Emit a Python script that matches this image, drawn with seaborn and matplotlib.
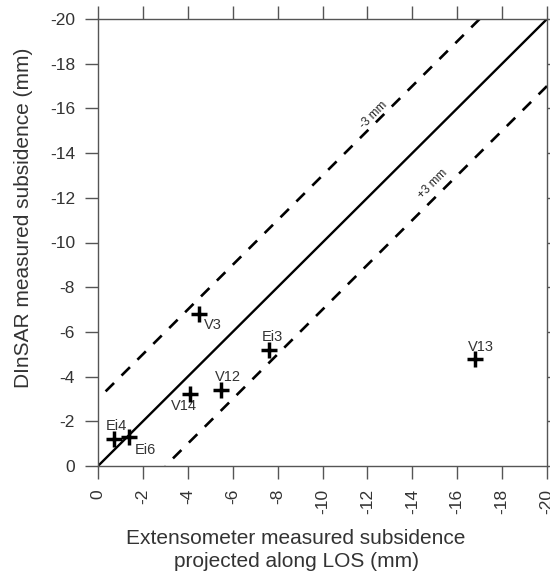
import matplotlib
matplotlib.use("Agg")
import matplotlib.pyplot as plt
import seaborn as sns
import pandas as pd
import numpy as np

# Data
names = ["Ei4", "Ei6", "V14", "V12", "V3", "Ei3", "V13"]
extenso = [-0.7, -1.4, -4.1, -5.5, -4.5, -7.6, -16.8]
dinsar = [-1.2, -1.3, -3.2, -3.4, -6.8, -5.2, -4.8]
label_offsets = [(3, 13), (16, -13), (-6, -12), (6, 13), (14, -11), (4, 13), (6, 12)]

ticks = [0, -2, -4, -6, -8, -10, -12, -14, -16, -18, -20]
offset_mm = 3

sns.set_theme(style="ticks")
plt.rcParams['font.family'] = ['Liberation Sans', 'DejaVu Sans']

fig = plt.figure(figsize=(5.5, 5.74), dpi=100)
ax = fig.add_axes([98/550, 1 - 466/574, 449/550, 447/574])

df = pd.DataFrame({"x": extenso, "y": dinsar, "name": names})

# reference lines
line_x = np.array([0, -20])
sns.lineplot(x=line_x, y=line_x, ax=ax, color="black", lw=1.7)
ux = np.array([0, -20 + offset_mm])
sns.lineplot(x=ux, y=ux - offset_mm, ax=ax, color="black", lw=1.9)
lx = np.array([-offset_mm, -20])
sns.lineplot(x=lx, y=lx + offset_mm, ax=ax, color="black", lw=1.9)
ax.lines[1].set_linestyle((0, (4.5, 4)))
ax.lines[2].set_linestyle((0, (4.5, 4)))

sns.scatterplot(data=df, x="x", y="y", ax=ax, marker="+", color="black",
                s=120, linewidth=2.5, zorder=5)

for n, xv, yv, off in zip(names, extenso, dinsar, label_offsets):
    ax.annotate(n, (xv, yv), xytext=off, textcoords="offset pixels",
                ha="center", va="center", fontsize=10.5, color="#333333")

ax.text(-12.3, -15.7, "-3 mm", rotation=45, ha="center", va="center",
        fontsize=8.5, color="#222222", rotation_mode="anchor")
ax.text(-14.9, -12.6, "+3 mm", rotation=45, ha="center", va="center",
        fontsize=8.5, color="#222222", rotation_mode="anchor")

ax.set_xlim(0, -20)
ax.set_ylim(0, -20)
ax.set_xticks(ticks)
ax.set_yticks(ticks)
ax.set_xticklabels([str(t) for t in ticks], rotation=90, fontsize=12.5, color="#333333")
ax.set_yticklabels([str(t) for t in ticks], fontsize=12.5, color="#333333")
ax.tick_params(axis="both", direction="out", length=9.5, width=1, color="#555555",
               top=True, right=True, labeltop=False, labelright=False, pad=7)
for s in ax.spines.values():
    s.set_visible(True)
    s.set_color("#555555")
    s.set_linewidth(1)

ax.set_xlabel("Extensometer measured subsidence\nprojected along LOS (mm)",
              fontsize=15, color="#333333", linespacing=1.25, va="center")
ax.set_ylabel("DInSAR measured subsidence (mm)", fontsize=15, color="#333333", va="center")
ax.xaxis.set_label_coords((296 - 98) / 449, (466 - 550) / 447)
ax.yaxis.set_label_coords((24 - 98) / 449, (466 - 218) / 447)

fig.savefig("out.png", dpi=100)
